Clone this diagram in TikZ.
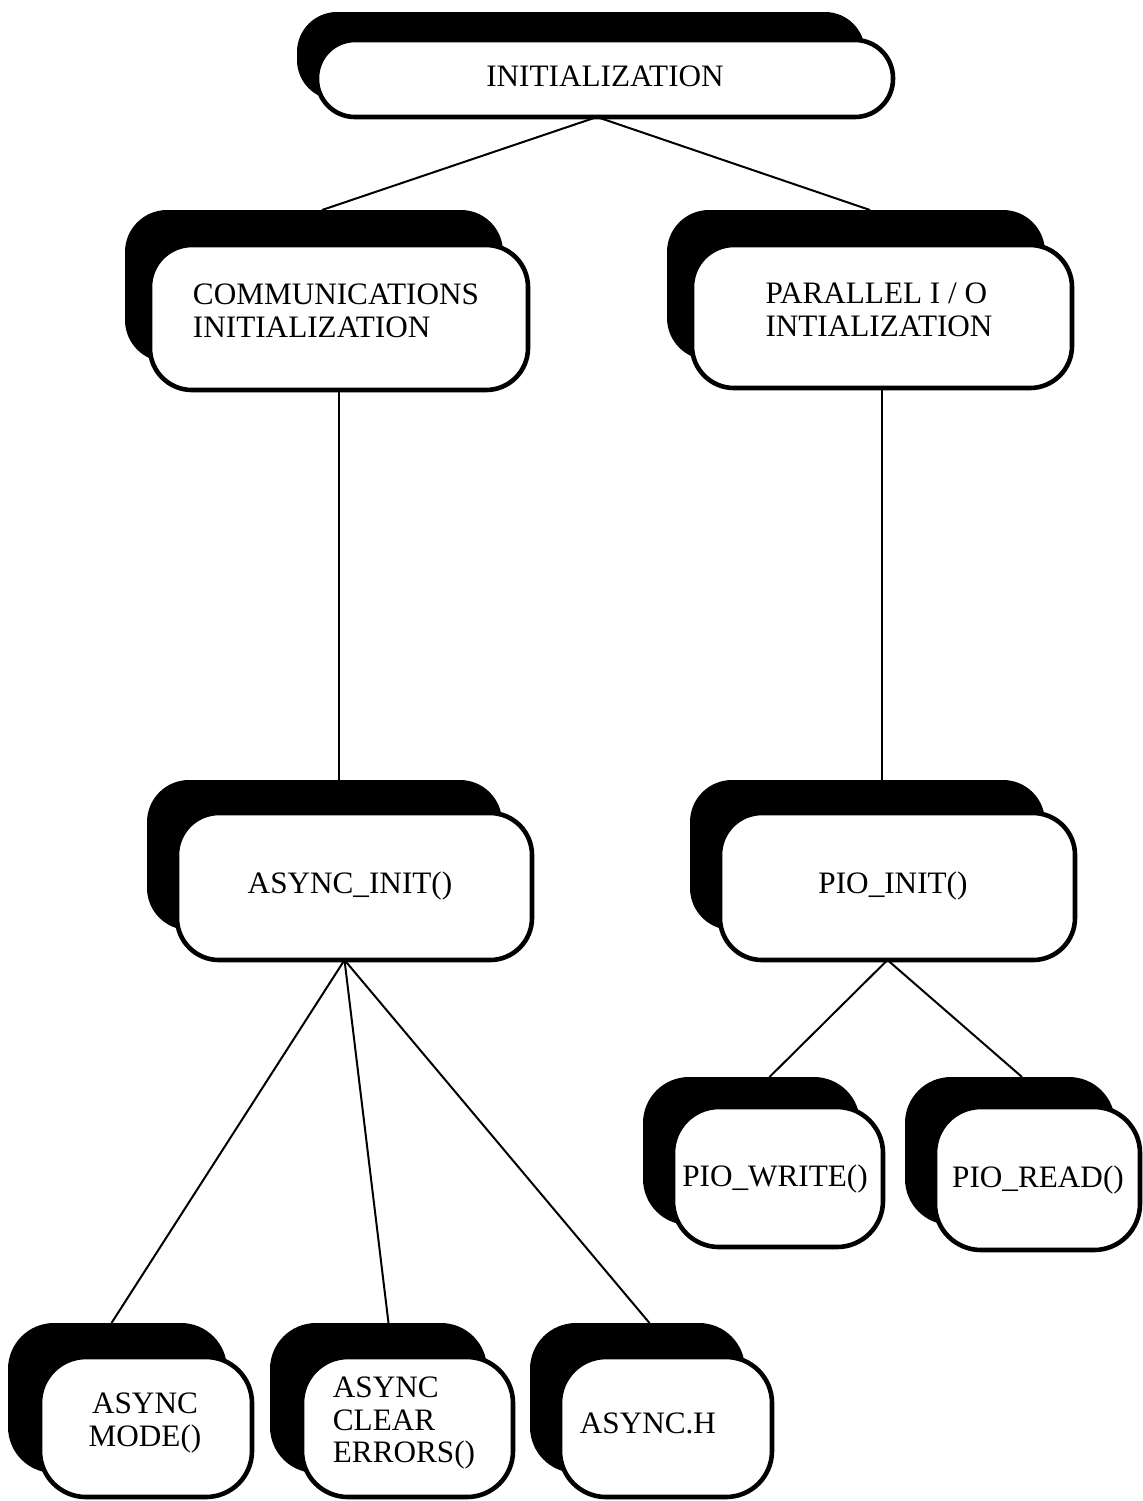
\documentclass[tikz,border=0pt]{standalone}
\usepackage{fontspec}
\setmainfont{Liberation Serif}
\usetikzlibrary{fit}
\begin{document}
\begin{tikzpicture}[x=0.5pt,y=-0.5pt,
  frontbox/.style={draw=black, line width=2.3pt, fill=white, rounded corners=#1, inner sep=0pt, outer sep=0pt},
  frontbox/.default=21pt,
  backing/.style={fill=black, rounded corners=#1, inner sep=0pt, outer sep=0pt},
  backing/.default=21pt,
  lbl/.style={font=\fontsize{15.6}{16.3}\selectfont, inner sep=0pt},
  link/.style={line width=1pt}]
\useasboundingbox (0,0) rectangle (1142,1501);

% top level
\node[backing=20pt, fit={(297,12) (865,100)}] (init-sh) {};
\node[frontbox=19pt, fit={(317,40) (893,117)}] (init) {};
\node[lbl] (init-t) at (605,76) {INITIALIZATION};

% second level
\node[backing, fit={(125,210) (503,362)}] (comm-sh) {};
\node[frontbox, fit={(150,245) (528,390)}] (comm) {};
\node[lbl, align=left] (comm-t) at (336,311) {COMMUNICATIONS\\INITIALIZATION};

\node[backing, fit={(667,210) (1045,360)}] (par-sh) {};
\node[frontbox, fit={(692,245) (1072,388)}] (par) {};
\node[lbl, align=left] (par-t) at (879,310) {PARALLEL I / O\\INTIALIZATION};

% third level
\node[backing, fit={(147,780) (502,930)}] (ainit-sh) {};
\node[frontbox, fit={(177,813) (532,960)}] (ainit) {};
\node[lbl] (ainit-t) at (350,886) {ASYNC\_INIT()};

\node[backing, fit={(690,780) (1045,930)}] (pinit-sh) {};
\node[frontbox, fit={(720,813) (1075,960)}] (pinit) {};
\node[lbl] (pinit-t) at (893,886) {PIO\_INIT()};

% parallel I/O leaves
\node[backing=23pt, fit={(643,1077) (860,1225)}] (pw-sh) {};
\node[frontbox=23pt, fit={(673,1107) (883,1247)}] (pw) {};
\node[lbl] (pw-t) at (775,1179) {PIO\_WRITE()};

\node[backing=23pt, fit={(905,1077) (1115,1225)}] (pr-sh) {};
\node[frontbox=23pt, fit={(935,1107) (1140,1250)}] (pr) {};
\node[lbl] (pr-t) at (1038,1180) {PIO\_READ()};

% async leaves
\node[backing=23pt, fit={(8,1323) (227,1473)}] (amode-sh) {};
\node[frontbox=23pt, fit={(40,1357) (252,1497)}] (amode) {};
\node[lbl, align=center] (amode-t) at (145,1423) {ASYNC\\MODE()};

\node[backing=23pt, fit={(270,1323) (487,1473)}] (aclear-sh) {};
\node[frontbox=23pt, fit={(302,1357) (513,1497)}] (aclear) {};
\node[lbl, align=left] (aclear-t) at (404,1423) {ASYNC\\CLEAR\\ERRORS()};

\node[backing=23pt, fit={(530,1323) (745,1473)}] (ah-sh) {};
\node[frontbox=23pt, fit={(560,1357) (772,1497)}] (ah) {};
\node[lbl] (ah-t) at (648,1423) {ASYNC.H};

% connectors
\draw[link] ([xshift=-4pt]init.south) -- ([xshift=4pt]comm-sh.north);
\draw[link] ([xshift=-4pt]init.south) -- ([xshift=7pt]par-sh.north);
\draw[link] (comm.south) -- (comm.south |- ainit-sh.north);
\draw[link] (par.south) -- (par.south |- pinit-sh.north);
\draw[link] ([xshift=-5pt]ainit.south) -- ([xshift=-3pt]amode-sh.north);
\draw[link] ([xshift=-5pt]ainit.south) -- ([xshift=5pt]aclear-sh.north);
\draw[link] ([xshift=-5pt]ainit.south) -- ([xshift=6pt]ah-sh.north);
\draw[link] ([xshift=-5pt]pinit.south) -- ([xshift=9pt]pw-sh.north);
\draw[link] ([xshift=-5pt]pinit.south) -- ([xshift=6pt]pr-sh.north);
\end{tikzpicture}
\end{document}
